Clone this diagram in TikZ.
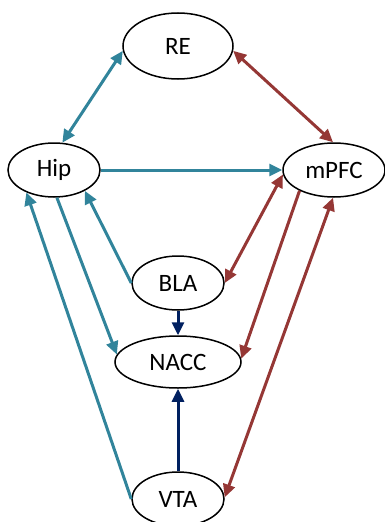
\documentclass[tikz,border=0pt]{standalone}
\usepackage{fontspec}
\setmainfont{Carlito}
\usetikzlibrary{shapes.geometric, arrows.meta}

\definecolor{hipteal}{HTML}{31849B}
\definecolor{pfcred}{HTML}{953735}
\definecolor{vtanavy}{HTML}{002060}

\begin{document}
\begin{tikzpicture}[x=1pt, y=-1pt,
    % Define the style for the brain regions
    region/.style={ellipse, draw, line width=1.5pt, inner sep=0pt,
        minimum width=92pt, minimum height=54pt,
        font=\fontsize{25}{30}\selectfont},
    % Define the styles for the projections
    proj/.style={line width=3pt, -{Triangle[length=13pt,width=12pt]}},
    mutual/.style={line width=3pt, {Triangle[length=13pt,width=12pt]}-{Triangle[length=13pt,width=12pt]}}
]

\useasboundingbox (0,0) rectangle (385,522);

% Place the regions
\node[region, minimum width=110pt, minimum height=66pt] (RE) at (178,46) {RE};
\node[region] (Hip) at (54,170) {Hip};
\node[region, minimum width=102pt] (mPFC) at (334,170) {mPFC};
\node[region] (BLA) at (178,283) {BLA};
\node[region, minimum width=126pt, minimum height=52pt] (NACC) at (178,362) {NACC};
\node[region] (VTA) at (178,499) {VTA};

% Draw the hippocampal projections
\draw[mutual, hipteal] (Hip.73) -- (RE.185);
\draw[proj, hipteal] (Hip) -- (mPFC);
\draw[proj, hipteal] (BLA.180) -- (Hip.-34);
\draw[proj, hipteal] (Hip.-84) -- (NACC.173);
\draw[proj, hipteal] (VTA.180) -- (Hip.219);

% Draw the prefrontal projections
\draw[mutual, pfcred] (RE.355) -- (mPFC.92);
\draw[mutual, pfcred] (BLA.0) -- (mPFC.185);
\draw[proj, pfcred] (mPFC.211) -- (NACC.3);
\draw[mutual, pfcred] (VTA.2) -- (mPFC.268);

% Draw the inputs to NACC
\draw[proj, vtanavy] (BLA) -- (NACC);
\draw[proj, vtanavy] (VTA) -- (NACC);

\end{tikzpicture}
\end{document}
